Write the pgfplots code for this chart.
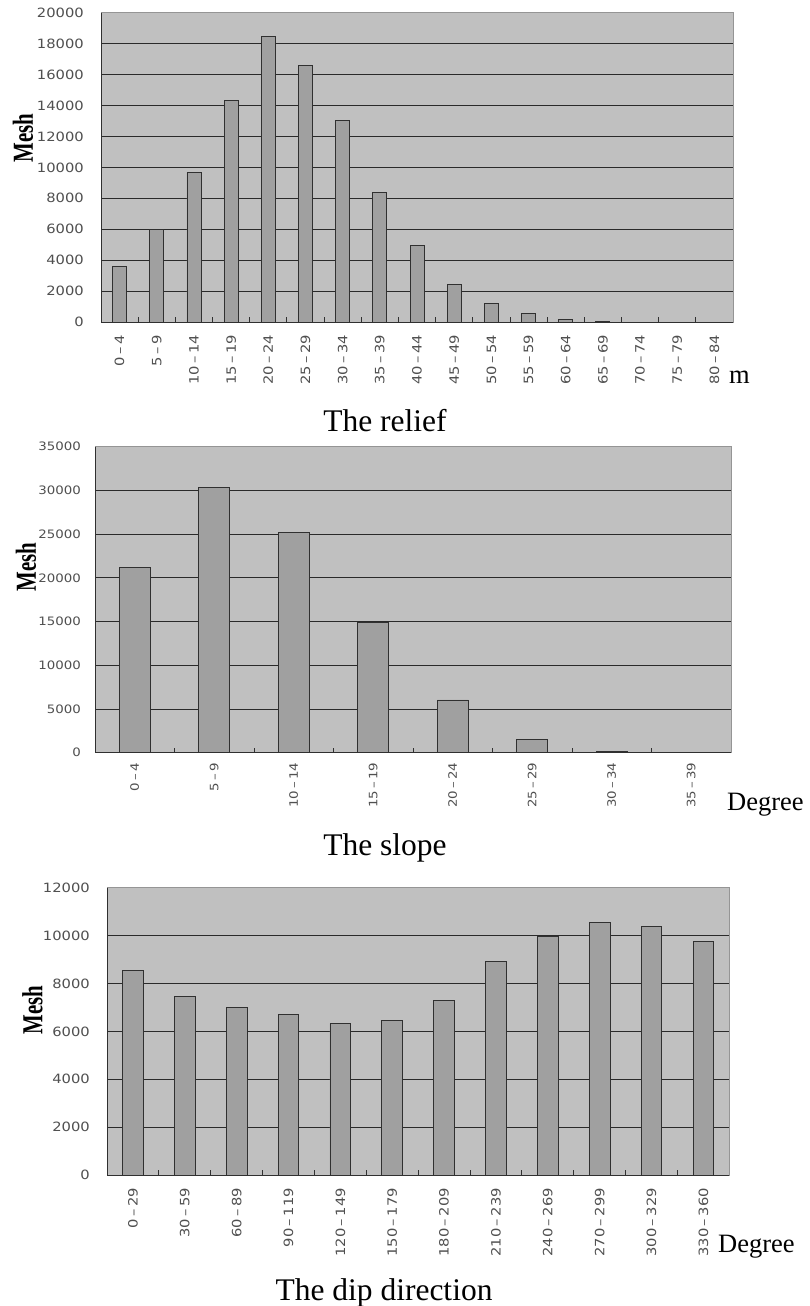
\documentclass[border=0pt]{standalone}
\usepackage{fontspec}
\usepackage{graphicx}
\usepackage{pgfplots}
\pgfplotsset{compat=1.18}
\newfontfamily\tickfam{DejaVu Sans}
\newfontfamily\serfam{Liberation Serif}
\definecolor{bgc}{HTML}{C0C0C0}
\definecolor{barc}{HTML}{A0A0A0}
\definecolor{barb}{HTML}{303030}
\definecolor{gridc}{HTML}{2A2A2A}
\definecolor{borderc}{HTML}{959595}
\definecolor{axisc}{HTML}{303030}
\definecolor{tickc}{HTML}{505050}
\newcommand\tl[1]{\scalebox{1.15}[1]{#1}}
\newcommand\tfA{\tickfam\fontsize{12.8}{14}\selectfont}
\newcommand\tfB{\tickfam\fontsize{11.6}{13}\selectfont}
\newcommand\meshfont{\serfam\bfseries\fontsize{29}{30}\selectfont}
\newcommand\titlefont{\serfam\fontsize{31.5}{33}\selectfont}
\newcommand\unitfont{\serfam\fontsize{26.5}{28}\selectfont}
\pgfplotsset{
  chartstyle/.style={
    scale only axis,
    axis background/.style={fill=bgc},
    axis line style={draw=borderc, line width=0.8pt},
    ymajorgrids,
    major grid style={draw=gridc, line width=0.8pt},
    tick pos=left,
    ybar,
    ymin=0,
    scaled y ticks=false,
    major tick length=0pt,
    minor tick length=5pt,
    xtick align=inside,
    ytick align=inside,
    minor tick style={draw=axisc, line width=0.8pt},
    xticklabel style={rotate=90, anchor=east, text=tickc, inner sep=0pt},
    yticklabel style={text=tickc, inner sep=0pt},
  },
  barplot/.style={fill=barc, draw=barb, line width=0.8pt},
}
\begin{document}
\begin{tikzpicture}
\path[use as bounding box, fill=white] (0pt,0pt) rectangle (810pt,-1306pt);

% ---------- The relief ----------
\begin{axis}[chartstyle,
  at={(101pt,-322pt)}, anchor=south west,
  width=632pt, height=309.3pt,
  xmin=-0.5, xmax=16.5, ymax=20000,
  bar width=0.376,
  xtick={0,...,16},
  minor xtick={0.5,1.5,...,16.5},
  xticklabels={\tl{0\,–\,4},\tl{5\,–\,9},\tl{10\,–\,14},\tl{15\,–\,19},\tl{20\,–\,24},\tl{25\,–\,29},\tl{30\,–\,34},\tl{35\,–\,39},\tl{40\,–\,44},\tl{45\,–\,49},\tl{50\,–\,54},\tl{55\,–\,59},\tl{60\,–\,64},\tl{65\,–\,69},\tl{70\,–\,74},\tl{75\,–\,79},\tl{80\,–\,84}},
  ytick={0,2000,...,20000},
  yticklabels={\tl{0},\tl{2000},\tl{4000},\tl{6000},\tl{8000},\tl{10000},\tl{12000},\tl{14000},\tl{16000},\tl{18000},\tl{20000}},
  xticklabel style={font=\tfA}, yticklabel style={font=\tfA},
  xticklabel shift=13pt, yticklabel shift=17pt,
  xtick align=inside,
]
\addplot[barplot] coordinates {(0,3620) (1,5980) (2,9670) (3,14300) (4,18490) (5,16570) (6,13050) (7,8370) (8,4940) (9,2420) (10,1190) (11,540) (12,190) (13,60) (14,0) (15,0) (16,0)};
\draw[axisc, line width=0.9pt] (rel axis cs:0,1) -- (rel axis cs:0,0) -- (rel axis cs:1,0);
\end{axis}
\node[rotate=90, font=\meshfont, inner sep=0pt] at (23pt,-138pt) {\scalebox{0.72}[1]{Mesh}};
\node[anchor=base west, font=\unitfont, inner sep=0pt] at (729pt,-383pt) {m};
\node[anchor=base, font=\titlefont, inner sep=0pt] at (385pt,-431pt) {The relief};

% ---------- The slope ----------
\begin{axis}[chartstyle,
  at={(95pt,-752.7pt)}, anchor=south west,
  width=636pt, height=306pt,
  xmin=-0.5, xmax=7.5, ymax=35000,
  bar width=0.39,
  xtick={0,...,7},
  minor xtick={0.5,1.5,...,7.5},
  xticklabels={\tl{0\,–\,4},\tl{5\,–\,9},\tl{10\,–\,14},\tl{15\,–\,19},\tl{20\,–\,24},\tl{25\,–\,29},\tl{30\,–\,34},\tl{35\,–\,39}},
  ytick={0,5000,...,35000},
  yticklabels={\tl{0},\tl{5000},\tl{10000},\tl{15000},\tl{20000},\tl{25000},\tl{30000},\tl{35000}},
  xticklabel style={font=\tfB}, yticklabel style={font=\tfB},
  xticklabel shift=10pt, yticklabel shift=14pt,
  xtick align=inside,
]
\addplot[barplot] coordinates {(0,21170) (1,30380) (2,25220) (3,14900) (4,6040) (5,1530) (6,150) (7,0)};
\draw[axisc, line width=0.9pt] (rel axis cs:0,1) -- (rel axis cs:0,0) -- (rel axis cs:1,0);
\end{axis}
\node[rotate=90, font=\meshfont, inner sep=0pt] at (26pt,-567pt) {\scalebox{0.72}[1]{Mesh}};
\node[anchor=base west, font=\unitfont, inner sep=0pt] at (727pt,-810pt) {Degree};
\node[anchor=base, font=\titlefont, inner sep=0pt] at (385pt,-855pt) {The slope};

% ---------- The dip direction ----------
\begin{axis}[chartstyle,
  at={(107pt,-1175pt)}, anchor=south west,
  width=622.3pt, height=287.3pt,
  xmin=-0.5, xmax=11.5, ymax=12000,
  bar width=0.40,
  xtick={0,...,11},
  minor xtick={0.5,1.5,...,11.5},
  xticklabels={\tl{0\,–\,29},\tl{30\,–\,59},\tl{60\,–\,89},\tl{90\,–\,119},\tl{120\,–\,149},\tl{150\,–\,179},\tl{180\,–\,209},\tl{210\,–\,239},\tl{240\,–\,269},\tl{270\,–\,299},\tl{300\,–\,329},\tl{330\,–\,360}},
  ytick={0,2000,...,12000},
  yticklabels={\tl{0},\tl{2000},\tl{4000},\tl{6000},\tl{8000},\tl{10000},\tl{12000}},
  xticklabel style={font=\tfA}, yticklabel style={font=\tfA},
  xticklabel shift=13pt, yticklabel shift=17pt,
  xtick align=inside,
]
\addplot[barplot] coordinates {(0,8530) (1,7450) (2,6990) (3,6720) (4,6330) (5,6460) (6,7300) (7,8920) (8,9950) (9,10550) (10,10400) (11,9770)};
\draw[axisc, line width=0.9pt] (rel axis cs:0,1) -- (rel axis cs:0,0) -- (rel axis cs:1,0);
\end{axis}
\node[rotate=90, font=\meshfont, inner sep=0pt] at (32.5pt,-1010pt) {\scalebox{0.72}[1]{Mesh}};
\node[anchor=base west, font=\unitfont, inner sep=0pt] at (718pt,-1252pt) {Degree};
\node[anchor=base, font=\titlefont, inner sep=0pt] at (384pt,-1300pt) {The dip direction};
\end{tikzpicture}
\end{document}
